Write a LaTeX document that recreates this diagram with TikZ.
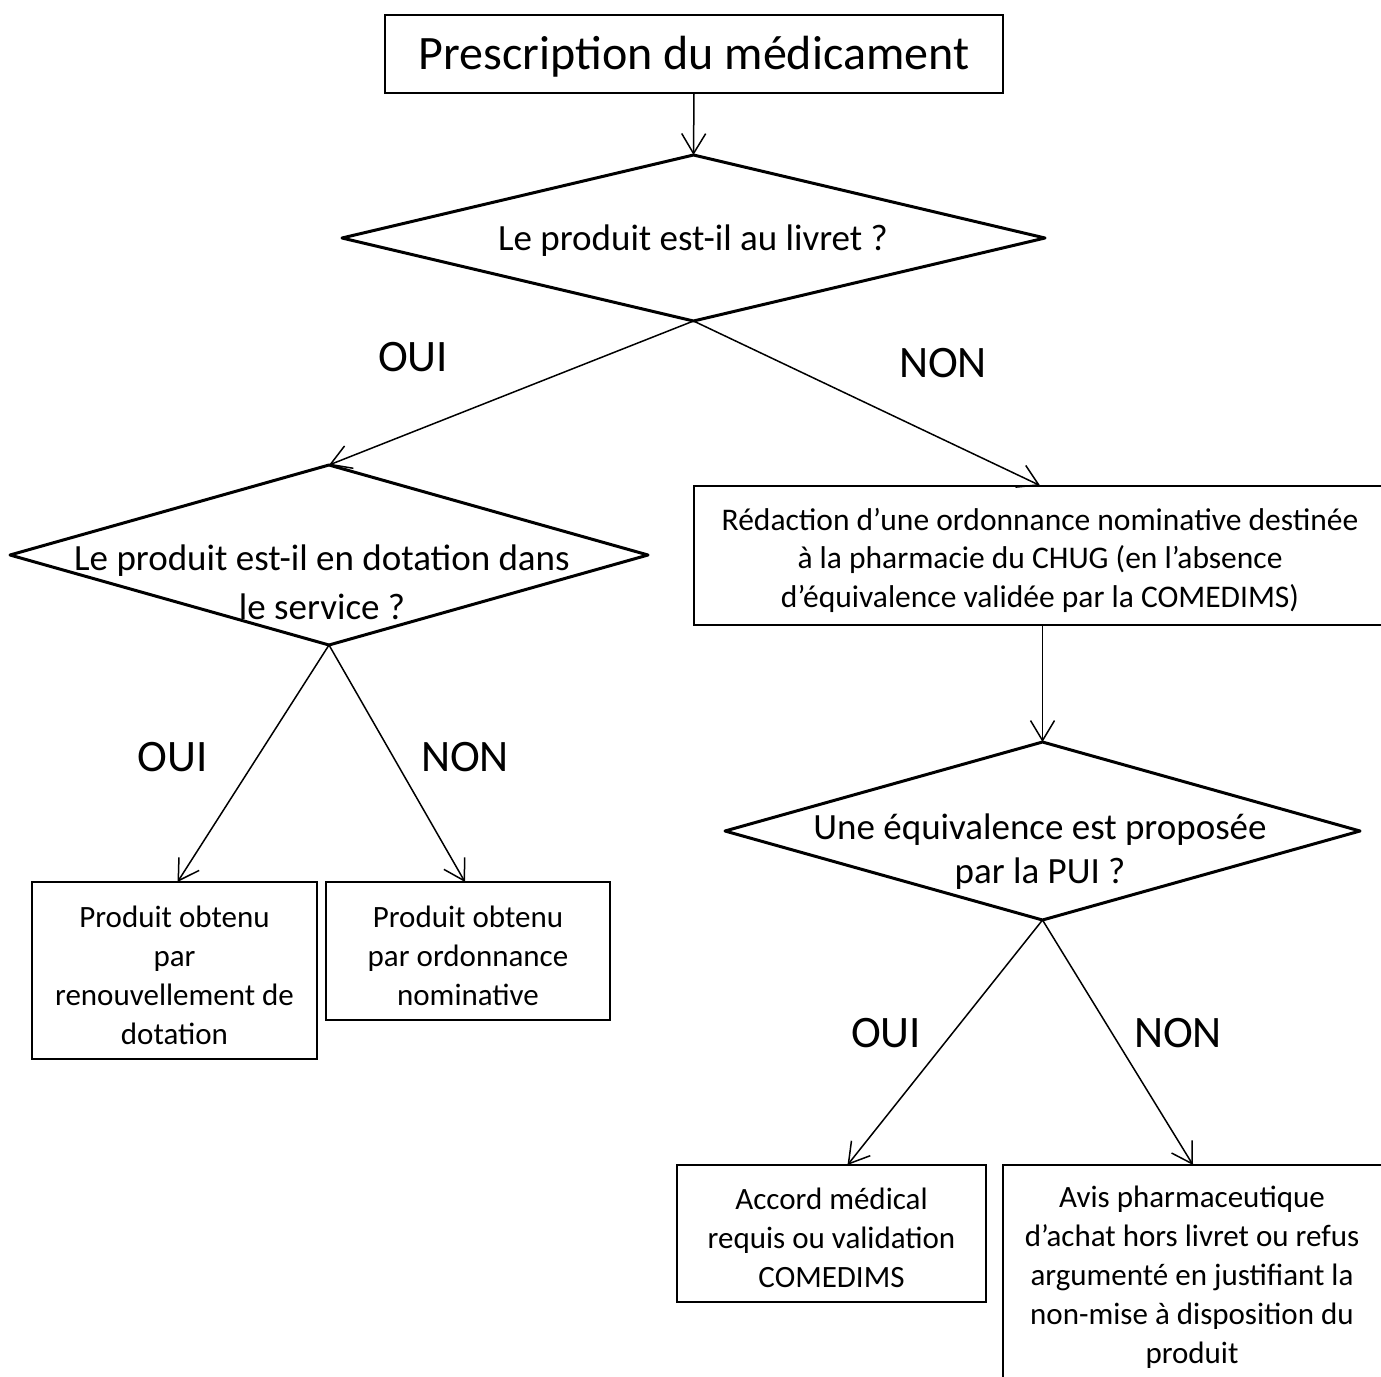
\documentclass[tikz,border=0pt]{standalone}
\usepackage{fontspec}
\setmainfont{Carlito}
\usetikzlibrary{shapes.geometric,arrows.meta}
\tikzset{
  box/.style={draw, line width=2pt, inner sep=0pt, outer sep=0pt},
  dia/.style={draw, shape=diamond, line width=3pt, line join=round, inner sep=0pt, outer sep=0pt},
  arr/.style={line width=1.5pt, -{Straight Barb[length=20pt,width=24pt,line width=1.5pt]}},
  ttxt/.style={font=\fontsize{37}{48}\selectfont, align=center, inner sep=0pt},
  btxt/.style={font=\fontsize{31}{39}\selectfont, align=center, inner sep=0pt},
  lab/.style={font=\fontsize{45}{54}\selectfont, inner sep=0pt}
}
\begin{document}
\begin{tikzpicture}[x=1pt,y=-1pt]
\useasboundingbox (0,0) rectangle (1381,1376);
\fill[white] (0,0) rectangle (1381,1376);

% top box
\node[box, minimum width=618pt, minimum height=78pt] (top) at (694,54) {};
\node[font=\fontsize{48}{58}\selectfont, inner sep=0pt] (toptxt) at (694,57) {Prescription du médicament};

% diamonds
\node[dia, minimum width=703pt, minimum height=166pt] (d1) at (693.5,238) {};
\node[ttxt] (d1t) at (693,241) {Le produit est-il au livret ?};

\node[dia, minimum width=638pt, minimum height=180pt] (d2) at (329,555) {};
\node[ttxt, font=\fontsize{37}{49}\selectfont] (d2t) at (322,582) {Le produit est-il en dotation dans\\le service ?};

\node[dia, minimum width=635pt, minimum height=178pt] (d3) at (1042.5,831) {};
\node[ttxt, font=\fontsize{37}{44}\selectfont] (d3t) at (1040,852) {Une équivalence est proposée\\par la PUI ?};

% boxes
\node[box, minimum width=692pt, minimum height=139pt] (R) at (1040,555) {};
\node[btxt, font=\fontsize{31.5}{38.5}\selectfont] (Rt) at (1040,560) {Rédaction d’une ordonnance nominative destinée\\à la pharmacie du CHUG (en l’absence\\d’équivalence validée par la COMEDIMS)};

\node[box, minimum width=285pt, minimum height=177pt] (A) at (174.5,970.5) {};
\node[btxt] (At) at (174.5,975) {Produit obtenu\\par\\renouvellement de\\dotation};

\node[box, minimum width=284pt, minimum height=138pt] (B) at (468,951) {};
\node[btxt] (Bt) at (468,956) {Produit obtenu\\par ordonnance\\nominative};

\node[box, minimum width=309pt, minimum height=137pt] (C) at (831.5,1233.5) {};
\node[btxt] (Ct) at (831.5,1238) {Accord médical\\requis ou validation\\COMEDIMS};

\node[box, minimum width=382pt, minimum height=260pt, anchor=north west] (D) at (1003,1165) {};
\node[btxt] (Dt) at (1192,1277) {Avis pharmaceutique\\d’achat hors livret ou refus\\argumenté en justifiant la\\non-mise à disposition du\\produit};

% connectors
\draw[arr] (top.south) -- (d1.north);
\draw[arr] (d1.south) -- (d2.north);
\draw[arr] (d1.south) -- (R.north);
\draw[arr] (R.south -| d3.north) -- (d3.north);
\draw[arr] (d2.south) -- ([xshift=3pt]A.north);
\draw[arr] (d2.south) -- ([xshift=-3pt]B.north);
\draw[arr] (d3.south) -- ([xshift=16pt]C.north);
\draw[arr] (d3.south) -- (1193,1165);

% labels
\node[lab] (l1) at (413,357) {OUI};
\node[lab] (l2) at (943,363) {NON};
\node[lab] (l3) at (173,757) {OUI};
\node[lab] (l4) at (465,757) {NON};
\node[lab] (l5) at (886,1033) {OUI};
\node[lab] (l6) at (1178,1033) {NON};
\end{tikzpicture}
\end{document}
